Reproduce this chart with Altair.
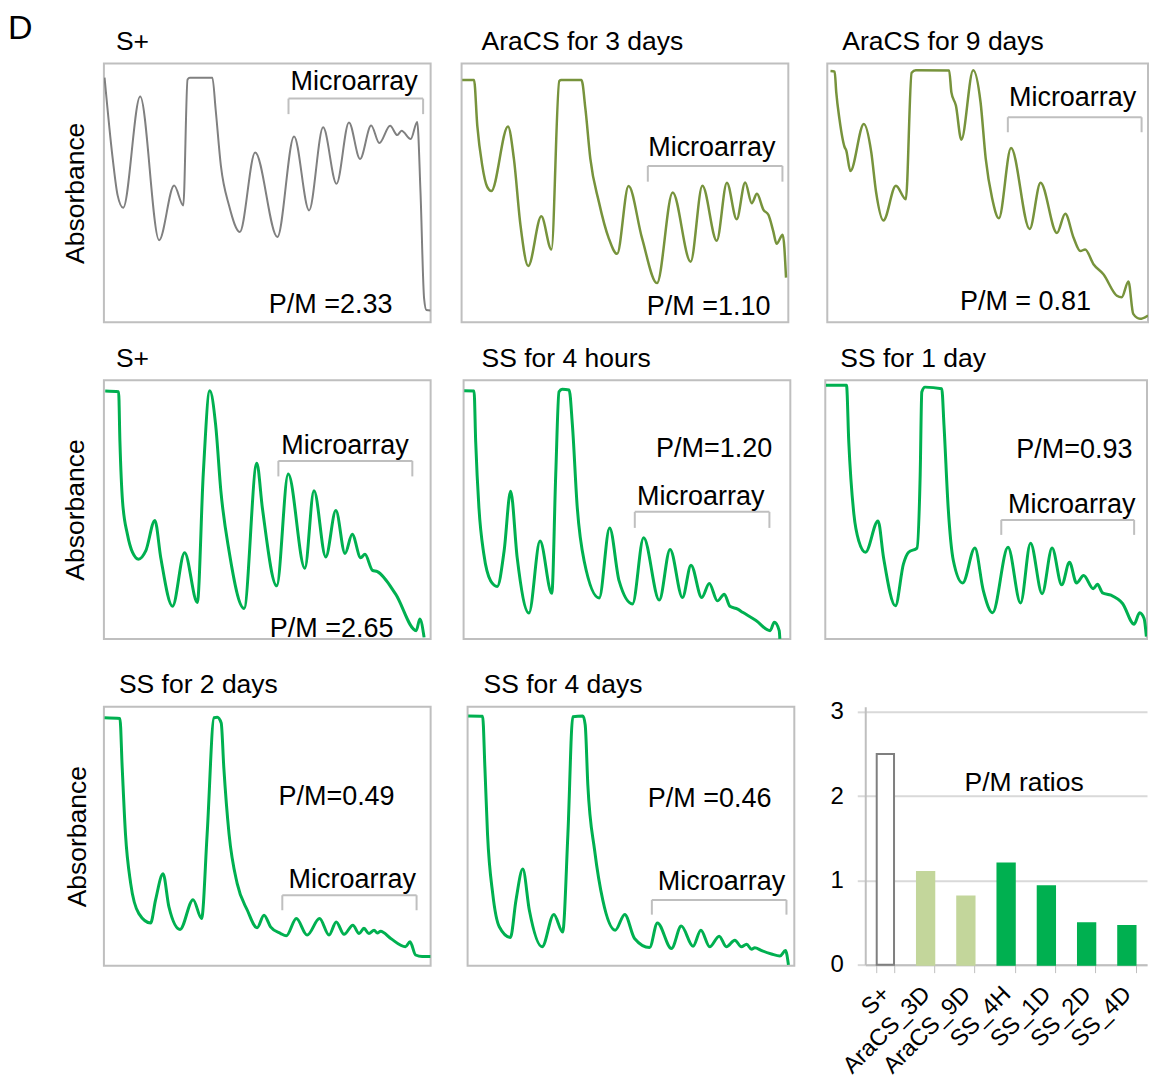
import altair as alt
import pandas as pd

FONT = "Liberation Sans"
FRAME_GRAY = "#bfbfbf"

# ---------------- polysome profile traces (gradient position %, absorbance %) ----------------
p1_x = [0.2, 2.7, 4.2, 5.9, 11.1, 16.9, 21.5, 24.3, 25.6, 26.3, 33.2, 34.2, 35.8, 38.3, 41.6, 46.3, 53.1, 58.2,
        62.8, 67.1, 71.2, 75.0, 78.4, 81.8, 84.3, 87.6, 89.8, 91.1, 93.9, 95.9, 96.9, 98.0, 98.7, 100.0]
p1_y = [94.5, 63.1, 49.0, 44.2, 87.2, 31.7, 52.8, 45.1, 93.8, 94.5, 94.5, 82.2, 60.5, 45.1, 34.9, 65.6, 32.9, 71.8,
        43.2, 75.3, 53.5, 77.2, 63.1, 76.0, 69.2, 75.9, 72.3, 74.0, 70.8, 77.4, 50.3, 9.2, 4.7, 4.5]

p2_x = [0.2, 3.8, 4.8, 6.3, 7.8, 9.1, 14.2, 16.0, 18.0, 20.4, 24.4, 27.5, 29.9, 30.5, 36.7, 37.9, 39.4, 42.0, 45.0,
        47.6, 51.1, 55.2, 59.8, 64.6, 70.1, 73.7, 78.1, 81.2, 84.2, 86.8, 88.8, 90.4, 92.4, 93.9, 95.4, 96.4, 98.3, 99.3]
p2_y = [93.6, 93.6, 76.0, 60.7, 52.4, 50.7, 75.6, 63.2, 37.7, 21.7, 40.9, 28.1, 93.2, 93.6, 93.6, 82.4, 63.2, 46.6, 32.6,
        26.4, 52.6, 32.6, 15.1, 50.1, 23.4, 52.7, 31.5, 53.9, 39.8, 54.0, 46.0, 49.6, 43.4, 41.5, 35.1, 30.3, 33.8, 17.2]

p3_x = [1.0, 2.3, 2.8, 3.8, 5.4, 5.9, 7.2, 11.4, 13.7, 15.2, 17.5, 21.4, 24.5, 26.3, 27.6, 38.0, 38.7, 40.1, 41.8, 45.5,
        47.8, 49.4, 51.4, 53.5, 57.3, 63.1, 66.5, 71.6, 74.2, 76.8, 78.9, 80.4, 83.0, 86.1, 90.3, 91.8, 93.9, 95.4, 97.5, 100.0]
p3_y = [97.1, 96.8, 88.8, 78.5, 67.7, 66.4, 58.4, 76.6, 65.8, 50.4, 39.3, 52.7, 47.5, 96.4, 97.4, 97.3, 88.8, 83.7, 70.5, 97.4,
        84.9, 63.2, 47.9, 40.2, 67.3, 36.0, 53.9, 34.5, 41.9, 32.6, 27.5, 28.1, 22.4, 18.5, 10.2, 9.6, 15.7, 3.2, 1.3, 2.6]

p4_x = [0.4, 4.5, 4.9, 5.7, 7.2, 8.8, 10.6, 12.8, 15.6, 17.4, 21.0, 24.7, 28.6, 30.4, 32.4, 34.2, 35.8, 38.3, 42.9, 46.8,
        48.5, 52.9, 56.4, 61.5, 64.3, 67.9, 71.0, 73.8, 76.0, 78.6, 79.9, 82.2, 83.7, 89.3, 95.6, 96.7, 98.0]
p4_y = [95.8, 95.5, 76.3, 53.2, 40.4, 33.3, 30.8, 34.0, 45.8, 31.4, 12.6, 33.3, 14.1, 63.5, 95.9, 82.7, 57.1, 34.0, 11.8, 67.9,
        50.6, 20.5, 63.7, 27.3, 57.3, 31.7, 49.6, 33.0, 40.4, 31.4, 32.7, 26.5, 26.0, 17.3, 3.2, 7.7, 0.6]

p5_x = [0.2, 3.2, 3.7, 4.7, 6.2, 8.3, 10.3, 12.4, 14.4, 16.4, 20.0, 23.4, 27.0, 28.2, 29.2, 30.2, 32.3, 33.3, 34.8, 36.9,
        41.5, 44.7, 47.6, 51.7, 55.1, 59.9, 63.2, 67.0, 69.6, 72.9, 75.2, 77.7, 79.8, 81.5, 83.9, 85.4, 89.5, 93.8, 95.1,
        96.6, 96.8]
p5_y = [95.9, 95.8, 76.3, 50.6, 32.7, 22.4, 20.3, 34.0, 57.1, 31.4, 10.0, 37.8, 17.6, 63.5, 95.5, 96.5, 96.2, 82.7, 50.6, 30.1,
        15.8, 42.9, 22.4, 13.5, 39.1, 15.0, 34.6, 16.0, 28.5, 16.0, 21.4, 14.7, 17.3, 12.6, 11.5, 10.3, 7.1, 3.2, 6.4,
        3.2, 0.0]

p6_x = [0.2, 6.6, 7.3, 8.9, 10.4, 12.5, 16.4, 18.1, 21.8, 24.3, 25.9, 28.5, 29.5, 30.0, 31.0, 36.2, 36.9, 38.2, 39.8, 42.7,
        46.5, 49.1, 52.0, 56.8, 60.7, 63.8, 67.4, 70.5, 73.5, 75.9, 78.1, 80.3, 83.3, 84.6, 86.2, 88.8, 92.4, 96.0, 97.7,
        99.1, 99.8]
p6_y = [98.0, 98.0, 76.2, 48.1, 37.9, 33.5, 45.6, 31.5, 12.8, 29.0, 33.5, 35.1, 63.5, 95.4, 97.3, 96.7, 82.5, 50.7, 30.3, 21.6,
        35.1, 18.8, 10.1, 35.4, 13.9, 37.0, 17.5, 35.1, 20.9, 29.6, 21.6, 24.5, 19.4, 21.1, 17.8, 16.9, 13.7, 5.7, 10.1,
        7.9, 0.9]

p7_x = [0.2, 4.9, 5.6, 6.6, 8.2, 10.7, 14.3, 15.8, 18.1, 19.9, 23.3, 27.3, 29.9, 31.6, 33.7, 34.7, 35.9, 36.7, 38.3, 40.8,
        43.9, 46.9, 49.0, 51.0, 54.1, 55.8, 58.9, 62.2, 66.0, 68.9, 71.1, 73.5, 76.2, 78.1, 79.6, 81.1, 82.7, 83.7, 84.7,
        87.8, 92.3, 93.7, 95.4, 97.4, 100.0]
p7_y = [95.8, 95.5, 76.5, 50.9, 31.7, 20.1, 16.5, 25.3, 35.5, 22.7, 14.0, 25.5, 18.2, 50.9, 95.8, 96.0, 93.8, 76.5, 50.9, 31.7,
        21.4, 14.6, 19.5, 15.0, 12.4, 11.5, 18.2, 11.8, 18.2, 11.8, 16.9, 12.1, 15.6, 12.4, 14.4, 12.4, 13.7, 12.6, 13.3,
        10.5, 7.3, 9.2, 4.1, 3.5, 3.5]

p8_x = [0.2, 4.6, 5.3, 6.1, 7.7, 9.7, 13.1, 14.8, 16.9, 18.9, 22.8, 26.4, 29.1, 30.7, 32.2, 35.3, 36.0, 36.8, 38.9, 41.4,
        45.2, 48.1, 51.1, 55.7, 58.1, 62.4, 65.4, 69.0, 71.4, 74.1, 77.0, 79.2, 81.8, 83.8, 85.4, 86.9, 87.9, 90.0, 93.0,
        95.6, 97.3, 98.2]
p8_y = [96.5, 96.4, 76.4, 50.8, 27.7, 15.0, 10.9, 25.2, 37.3, 21.4, 7.3, 19.8, 13.0, 50.8, 96.2, 96.5, 93.0, 69.9, 44.4, 25.2,
        13.7, 19.8, 10.5, 7.0, 16.5, 6.6, 15.3, 7.5, 13.7, 7.3, 11.4, 7.3, 9.8, 7.3, 8.3, 6.3, 6.9, 5.8, 4.5,
        3.7, 5.8, 0.3]

panel_titles = ["S+", "AraCS for 3 days", "AraCS for 9 days", "S+", "SS for 4 hours", "SS for 1 day",
                "SS for 2 days", "SS for 4 days"]
pm_text = ["P/M =2.33", "P/M =1.10", "P/M = 0.81", "P/M =2.65", "P/M=1.20", "P/M=0.93", "P/M=0.49", "P/M =0.46"]
pm_x = [69.4, 75.6, 61.8, 69.7, 76.7, 77.4, 71.2, 74.1]
pm_y = [6.7, 6.0, 7.7, 4.0, 73.3, 73.1, 65.0, 64.2]
micro_x = [76.6, 76.6, 76.5, 73.8, 72.6, 76.6, 76.0, 77.7]
micro_y = [92.8, 67.3, 86.5, 74.7, 54.7, 51.6, 32.9, 32.2]
bracket_x1 = [56.5, 57.0, 56.3, 53.4, 52.4, 54.7, 54.6, 56.4]
bracket_x2 = [97.7, 98.2, 98.0, 94.4, 93.6, 96.0, 95.7, 97.6]
bracket_top = [86.4, 60.4, 79.2, 68.8, 49.1, 46.0, 27.2, 25.4]
bracket_bot = [80.4, 54.3, 73.4, 62.8, 42.9, 40.2, 21.4, 19.7]

# ---------------- P/M ratio bar chart ----------------
bar_labels = ["S+", "AraCS_3D", "AraCS_9D", "SS_4H", "SS_1D", "SS_2D", "SS_4D"]
bar_values = [2.50, 1.10, 0.81, 1.20, 0.93, 0.49, 0.46]
bar_groups = ["S+", "AraCS", "AraCS", "SS", "SS", "SS", "SS"]

traces = [(p1_x, p1_y), (p2_x, p2_y), (p3_x, p3_y), (p4_x, p4_y),
          (p5_x, p5_y), (p6_x, p6_y), (p7_x, p7_y), (p8_x, p8_y)]
line_colors = ["#808080", "#77933c", "#77933c", "#00b050", "#00b050", "#00b050", "#00b050", "#00b050"]
line_widths = [2, 2.5, 2.5, 3, 3, 3, 3, 3]
title_dx = [12, 20, 15, 12, 18, 15, 15, 16]


def panel(i, show_y=False, pad=14, width=327):
    xs, ys = traces[i]
    df = pd.DataFrame({"x": xs, "y": ys})
    xsc = alt.Scale(domain=[0, 100], nice=False, zero=False)
    ysc = alt.Scale(domain=[0, 100], nice=False, zero=False)
    if show_y:
        yax = alt.Axis(title="Absorbance", labels=False, ticks=False, domain=False, grid=False,
                       titleFontSize=26.5, titleFontWeight="normal", titlePadding=pad,
                       titleColor="black", titleFont=FONT)
    else:
        yax = None
    line = alt.Chart(df).mark_line(color=line_colors[i], strokeWidth=line_widths[i],
                                   interpolate="monotone", clip=True).encode(
        x=alt.X("x:Q", scale=xsc, axis=None),
        y=alt.Y("y:Q", scale=ysc, axis=yax))
    bdf = pd.DataFrame({"x1": [bracket_x1[i]], "x2": [bracket_x2[i]],
                        "yt": [bracket_top[i]], "yb": [bracket_bot[i]]})
    hor = alt.Chart(bdf).mark_rule(color=FRAME_GRAY, strokeWidth=2).encode(
        x=alt.X("x1:Q", scale=xsc, axis=None), x2="x2:Q",
        y=alt.Y("yt:Q", scale=ysc, axis=yax))
    left = alt.Chart(bdf).mark_rule(color=FRAME_GRAY, strokeWidth=2).encode(
        x=alt.X("x1:Q", scale=xsc, axis=None),
        y=alt.Y("yt:Q", scale=ysc, axis=yax), y2="yb:Q")
    right = alt.Chart(bdf).mark_rule(color=FRAME_GRAY, strokeWidth=2).encode(
        x=alt.X("x2:Q", scale=xsc, axis=None),
        y=alt.Y("yt:Q", scale=ysc, axis=yax), y2="yb:Q")
    tdf = pd.DataFrame({"x": [micro_x[i], pm_x[i]], "y": [micro_y[i], pm_y[i]],
                        "label": ["Microarray", pm_text[i]]})
    txt = alt.Chart(tdf).mark_text(fontSize=27, font=FONT, color="black",
                                   align="center", baseline="middle").encode(
        x=alt.X("x:Q", scale=xsc, axis=None),
        y=alt.Y("y:Q", scale=ysc, axis=yax),
        text="label:N")
    return alt.layer(line, hor, left, right, txt).properties(
        width=width, height=259,
        title=alt.Title(panel_titles[i], anchor="start", frame="group", dx=title_dx[i],
                        fontSize=26.5, fontWeight="normal", font=FONT, color="black",
                        offset=8))


bdf = pd.DataFrame({"cat": bar_labels, "val": bar_values, "grp": bar_groups})
bars = alt.Chart(bdf).mark_bar(strokeWidth=2).encode(
    x=alt.X("cat:N", sort=bar_labels,
            scale=alt.Scale(paddingInner=0.57, paddingOuter=0.285),
            axis=alt.Axis(title=None, labelAngle=-45, labelFontSize=23.5, labelColor="black",
                          labelFont=FONT, tickBand="extent", tickSize=8, tickColor=FRAME_GRAY,
                          domainColor=FRAME_GRAY, domainWidth=2, labelPadding=9, labelOffset=-8,
                          grid=False)),
    y=alt.Y("val:Q", scale=alt.Scale(domain=[0, 3.06], nice=False),
            axis=alt.Axis(title=None, values=[0, 1, 2, 3], format="d", grid=True, gridColor="#d9d9d9",
                          gridWidth=2, tickColor="#d9d9d9", tickWidth=2, tickSize=8,
                          domainColor=FRAME_GRAY, domainWidth=2, labelFontSize=24,
                          labelPadding=14, labelColor="black", labelFont=FONT)),
    fill=alt.Fill("grp:N", scale=alt.Scale(domain=["S+", "AraCS", "SS"],
                                           range=["#ffffff", "#c3d69b", "#00b050"]), legend=None),
    stroke=alt.Stroke("grp:N", scale=alt.Scale(domain=["S+", "AraCS", "SS"],
                                               range=["#7f7f7f", "#c3d69b", "#00b050"]), legend=None))
ratio_txt = alt.Chart(pd.DataFrame({"cat": ["SS_4H"], "val": [2.16], "label": ["P/M ratios"]})).mark_text(
    fontSize=26.5, font=FONT, color="black", dx=18, align="center", baseline="middle").encode(
    x=alt.X("cat:N", sort=bar_labels), y="val:Q", text="label:N")
barchart = alt.layer(bars, ratio_txt).properties(
    width=282, height=258, view=alt.ViewBackground(stroke="transparent"))

row1 = alt.hconcat(alt.hconcat(panel(0, True, 14), panel(1), spacing=29), panel(2, width=321), spacing=37)
row2 = alt.hconcat(alt.hconcat(panel(3, True, 14), panel(4), spacing=31), panel(5, width=322), spacing=33)
row3 = alt.hconcat(alt.hconcat(panel(6, True, 12), panel(7), spacing=35), barchart, spacing=33)

chart = alt.vconcat(alt.vconcat(row1, row2, spacing=21), row3, spacing=28).properties(
    title=alt.Title("D", anchor="start", fontSize=34, fontWeight="normal", font=FONT,
                    color="black", dx=-54, offset=-18),
    padding={"left": 8, "top": 11, "right": 0, "bottom": 0}
).configure(font=FONT).configure_view(stroke=FRAME_GRAY, strokeWidth=2)

chart.save("out.html", embed_options={"renderer": "svg", "actions": False})
